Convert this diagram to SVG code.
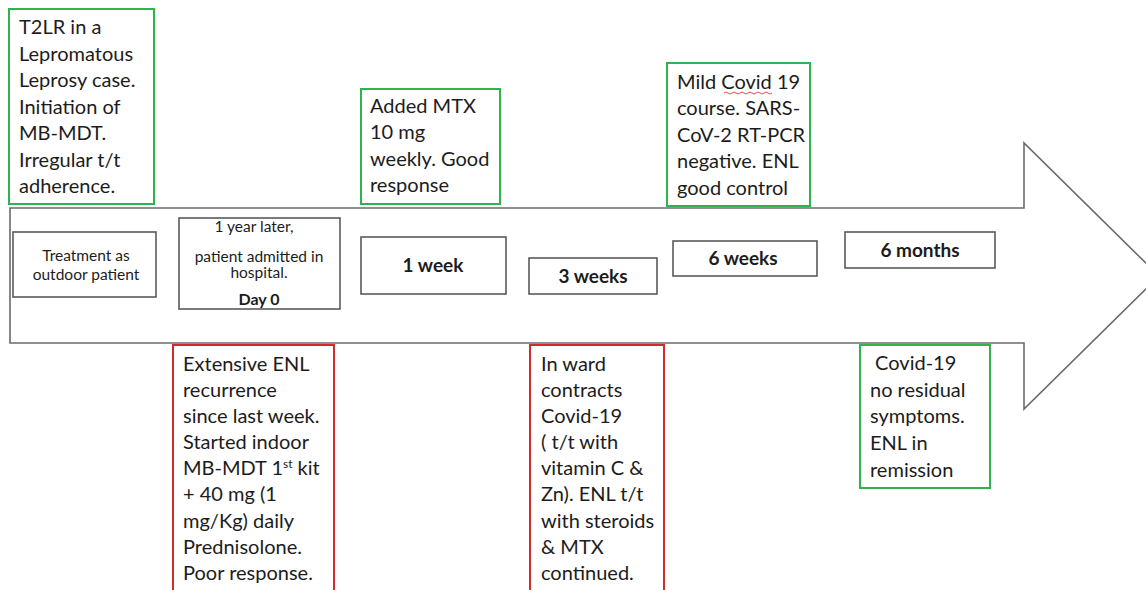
<svg xmlns="http://www.w3.org/2000/svg" width="1146" height="590" viewBox="0 0 1146 590">
<style>
.bg{fill:#ffffff}
.arrow{fill:#ffffff;stroke:#6b6b6b;stroke-width:1.6;stroke-linejoin:miter}
.tbox{fill:#ffffff;stroke:#5a5a5a;stroke-width:1.6}
.gbox{fill:#ffffff;stroke:#2fb350;stroke-width:2}
.rbox{fill:#ffffff;stroke:#d22a2e;stroke-width:2}
.note{font-family:Lato,"Open Sans","Liberation Sans",sans-serif;font-size:20px;fill:#1c1c1c}
.small{font-family:Lato,"Open Sans","Liberation Sans",sans-serif;font-size:15.5px;fill:#1c1c1c;text-anchor:middle}
.bold{font-family:Lato,"Open Sans","Liberation Sans",sans-serif;font-size:19px;font-weight:bold;fill:#1c1c1c;text-anchor:middle}
.squig{fill:none;stroke:#e0393b;stroke-width:0.9}
</style>
<rect class="bg" x="0" y="0" width="1146" height="590"/>

<g id="connectors">
<path id="timeline-arrow" class="arrow" d="M10,208 L1024,208 L1024,143 L1159,276 L1024,409 L1024,343 L10,343 Z"/>
</g>

<g id="note-t2lr">
<rect class="gbox" x="9" y="9" width="145" height="195"/>
<text class="note" x="19" y="34">T2LR in a</text>
<text class="note" x="19" y="61">Lepromatous</text>
<text class="note" x="19" y="87">Leprosy case.</text>
<text class="note" x="19" y="114">Initiation of</text>
<text class="note" x="19" y="140">MB-MDT.</text>
<text class="note" x="19" y="167">Irregular t/t</text>
<text class="note" x="19" y="193">adherence.</text>
</g>

<g id="note-mtx">
<rect class="gbox" x="361" y="89" width="139" height="115"/>
<text class="note" x="370" y="113">Added MTX</text>
<text class="note" x="370" y="139">10 mg</text>
<text class="note" x="370" y="166">weekly. Good</text>
<text class="note" x="370" y="192">response</text>
</g>

<g id="note-mild-covid">
<rect class="gbox" x="667" y="63" width="143" height="143"/>
<text class="note" x="677" y="89">Mild Covid 19</text>
<path class="squig" d="M724,93 q2,-2 4,0 t4,0 t4,0 t4,0 t4,0 t4,0 t4,0 t4,0 t4,0 t4,0 t4,0 t4,0"/>
<text class="note" x="677" y="115">course. SARS-</text>
<text class="note" x="677" y="142">CoV-2 RT-PCR</text>
<text class="note" x="677" y="168">negative. ENL</text>
<text class="note" x="677" y="195">good control</text>
</g>

<g id="step-outdoor">
<rect class="tbox" x="13" y="232" width="143" height="65"/>
<text class="small" x="86" y="261">Treatment as</text>
<text class="small" x="86" y="280">outdoor patient</text>
</g>

<g id="step-day0">
<rect class="tbox" x="179" y="218" width="161" height="91"/>
<text class="small" x="254" y="232">1 year later,</text>
<text class="small" x="259" y="262">patient admitted in</text>
<text class="small" x="259" y="278">hospital.</text>
<text class="bold" x="259" y="305" style="font-size:16px">Day 0</text>
</g>

<g id="step-1week">
<rect class="tbox" x="361" y="237" width="145" height="57"/>
<text class="bold" x="433" y="272">1 week</text>
</g>

<g id="step-3weeks">
<rect class="tbox" x="529" y="258" width="128" height="36"/>
<text class="bold" x="593" y="283">3 weeks</text>
</g>

<g id="step-6weeks">
<rect class="tbox" x="673" y="241" width="144" height="35"/>
<text class="bold" x="743" y="265">6 weeks</text>
</g>

<g id="step-6months">
<rect class="tbox" x="845" y="232" width="150" height="36"/>
<text class="bold" x="920" y="257">6 months</text>
</g>

<g id="note-enl-recurrence">
<rect class="rbox" x="173" y="345" width="161" height="260"/>
<text class="note" x="183" y="371">Extensive ENL</text>
<text class="note" x="183" y="397">recurrence</text>
<text class="note" x="183" y="423">since last week.</text>
<text class="note" x="183" y="449">Started indoor</text>
<text class="note" x="183" y="475">MB-MDT 1<tspan font-size="12" dy="-7">st</tspan><tspan dy="7"> kit</tspan></text>
<text class="note" x="183" y="501">+ 40 mg (1</text>
<text class="note" x="183" y="528">mg/Kg) daily</text>
<text class="note" x="183" y="554">Prednisolone.</text>
<text class="note" x="183" y="580">Poor response.</text>
</g>

<g id="note-ward-covid">
<rect class="rbox" x="530" y="345" width="134" height="260"/>
<text class="note" x="541" y="371">In ward</text>
<text class="note" x="541" y="397">contracts</text>
<text class="note" x="541" y="423">Covid-19</text>
<text class="note" x="541" y="449">( t/t with</text>
<text class="note" x="541" y="475">vitamin C &amp;</text>
<text class="note" x="541" y="501">Zn). ENL t/t</text>
<text class="note" x="541" y="528">with steroids</text>
<text class="note" x="541" y="554">&amp; MTX</text>
<text class="note" x="541" y="580">continued.</text>
</g>

<g id="note-remission">
<rect class="gbox" x="860" y="345" width="130" height="143"/>
<text class="note" x="870" y="370" xml:space="preserve"> Covid-19</text>
<text class="note" x="870" y="397">no residual</text>
<text class="note" x="870" y="423">symptoms.</text>
<text class="note" x="870" y="450">ENL in</text>
<text class="note" x="870" y="477">remission</text>
</g>
</svg>
